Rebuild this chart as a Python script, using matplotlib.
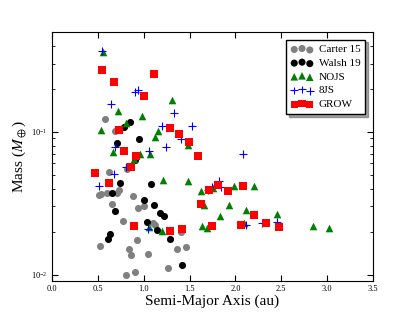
import matplotlib
matplotlib.use("Agg")
import matplotlib.pyplot as plt
import numpy as np

plt.rcParams['font.family'] = ['Liberation Serif', 'DejaVu Serif']
plt.rcParams['mathtext.fontset'] = 'stix'

# Carter 15
carter_a = [0.576, 0.687, 0.624, 0.818, 0.513, 0.540, 0.605, 0.709, 0.736, 0.651,
            0.880, 0.943, 1.005, 0.776, 1.099, 1.129, 0.529, 0.842, 0.930, 0.865,
            1.045, 1.360, 1.461, 1.407, 1.270, 0.805, 0.902]
carter_m = [0.122, 0.1016, 0.0523, 0.0551, 0.0361, 0.0364, 0.0371, 0.0374, 0.0393, 0.0312,
            0.0352, 0.0294, 0.0304, 0.0239, 0.0229, 0.0221, 0.0158, 0.0151, 0.0174, 0.0136,
            0.0140, 0.0150, 0.0155, 0.0198, 0.0112, 0.0100, 0.0105]

# Walsh 19
walsh_a = [0.851, 0.788, 0.949, 0.711, 0.905, 0.747, 1.080, 0.656, 1.005, 1.112,
           0.685, 1.041, 1.180, 1.221, 1.143, 0.630, 0.611, 1.290, 1.415]
walsh_m = [0.116, 0.1075, 0.0891, 0.0840, 0.0632, 0.0439, 0.0431, 0.0374, 0.0333, 0.0306,
           0.0279, 0.0234, 0.0268, 0.0259, 0.0205, 0.0191, 0.0177, 0.0178, 0.0116]

# NOJS
nojs_a = [0.553, 0.720, 0.538, 0.807, 0.985, 1.312, 1.161, 1.120, 0.665, 0.960,
          1.069, 0.900, 1.480, 1.214, 1.480, 1.630, 1.761, 1.988, 2.205, 1.654,
          1.933, 2.112, 1.834, 2.457, 1.641, 1.687, 2.092, 2.850, 3.017, 1.055, 1.203]
nojs_m = [0.362, 0.140, 0.1028, 0.1156, 0.128, 0.168, 0.1016, 0.0912, 0.0725, 0.0702,
          0.0698, 0.0642, 0.0805, 0.0460, 0.0454, 0.0386, 0.0406, 0.0414, 0.0416, 0.0306,
          0.0307, 0.0285, 0.0257, 0.0265, 0.0220, 0.0213, 0.0230, 0.0220, 0.0212, 0.0217, 0.0201]

# 8JS
ejs_a = [0.548, 0.647, 0.908, 0.938, 1.327, 1.203, 1.530, 0.690, 1.061, 1.240,
         1.412, 2.088, 0.807, 0.679, 0.515, 1.052, 1.704, 1.823, 1.750, 1.843,
         2.112, 2.293, 2.457]
ejs_m = [0.368, 0.155, 0.190, 0.197, 0.135, 0.1096, 0.1096, 0.0785, 0.0728, 0.0785,
         0.0893, 0.0702, 0.0569, 0.0506, 0.0418, 0.0207, 0.0393, 0.0449, 0.0412, 0.0407,
         0.0223, 0.0230, 0.0235]

# GROW
grow_a = [0.545, 0.676, 1.116, 1.003, 0.731, 0.785, 0.921, 1.287, 1.385, 1.494,
          1.595, 0.469, 0.622, 0.858, 0.894, 1.287, 1.418, 1.628, 1.715, 1.814,
          1.916, 2.088, 1.748, 2.064, 2.197, 2.330, 2.472]
grow_m = [0.270, 0.224, 0.252, 0.177, 0.103, 0.0728, 0.0679, 0.1067, 0.0969, 0.0851,
          0.0672, 0.0514, 0.0438, 0.0569, 0.0219, 0.0202, 0.0210, 0.0312, 0.0393, 0.0423,
          0.0386, 0.0414, 0.0219, 0.0221, 0.0261, 0.0230, 0.0217]

fig = plt.figure(figsize=(4.15, 3.12), dpi=100)
ax = fig.add_axes([0.125, 0.099, 0.774, 0.799])

ax.scatter(carter_a, carter_m, s=26, c='gray', marker='o', lw=0, label='Carter 15')
ax.scatter(walsh_a, walsh_m, s=26, c='black', marker='o', lw=0, label='Walsh 19')
ax.scatter(nojs_a, nojs_m, s=30, c='green', marker='^', lw=0, label='NOJS')
ax.scatter(ejs_a, ejs_m, s=30, c='blue', marker='+', lw=0.8, label='8JS')
ax.scatter(grow_a, grow_m, s=26, c='red', marker='s', lw=0, label='GROW')

ax.set_yscale('log')
ax.set_xlim(0, 3.5)
ax.set_ylim(0.009, 0.5)
ax.set_xticks(np.arange(0, 3.51, 0.5))
ax.tick_params(which='both', direction='in', top=True, right=True, labelsize=6, pad=3)
ax.tick_params(which='major', length=4)
ax.tick_params(which='minor', length=2)
ax.set_xlabel('Semi-Major Axis (au)', fontsize=11, labelpad=1)
ax.set_ylabel(r'Mass ($M_\oplus$)', fontsize=11, labelpad=2)

leg = ax.legend(loc='upper right', scatterpoints=3, scatteryoffsets=[0.375, 0.5, 0.3125],
                fontsize=8, fancybox=False, shadow=True, edgecolor='black',
                framealpha=1, handletextpad=0.5, borderpad=0.45, labelspacing=0.35,
                borderaxespad=0.7)
leg.get_frame().set_linewidth(1.0)

fig.savefig('out.png', dpi=100)
